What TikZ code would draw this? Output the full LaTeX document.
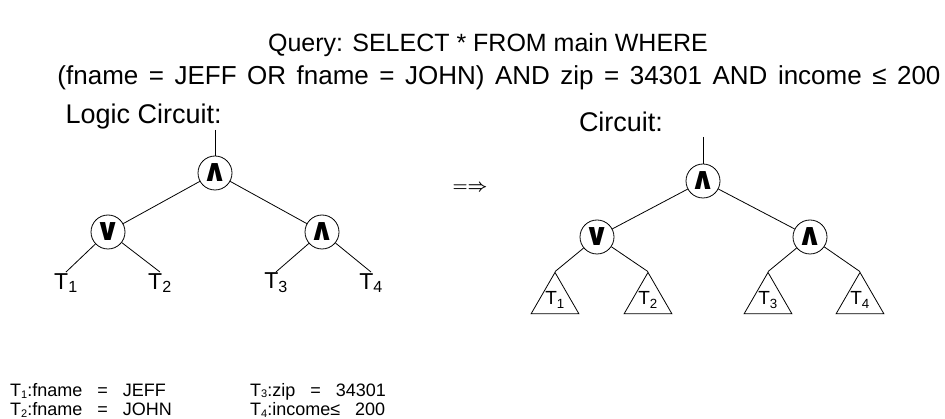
\documentclass[tikz,border=0pt]{standalone}
\usepackage{fontspec}
\setmainfont{Liberation Sans}
\newfontfamily\gatefont{DejaVu Sans}
\newcommand\widespaces[1]{\spaceskip=#1 plus 1pt\relax}
\newcommand\tsub[1]{\raisebox{-1.5pt}{\fontsize{11}{11}\selectfont #1}}
\usetikzlibrary{positioning,shapes.geometric}

\begin{document}
\begin{tikzpicture}[
    x=1pt, y=-1pt,
    gate/.style={circle, draw, line width=0.8pt, minimum size=34pt, inner sep=0pt,
                 font=\fontsize{31}{31}\gatefont\bfseries},
    leaf/.style={inner sep=1pt, font=\fontsize{23}{23}\selectfont},
    subtree/.style={regular polygon, regular polygon sides=3, draw, line width=0.8pt,
                    minimum size=52pt, inner sep=0pt, font=\fontsize{19}{19}\selectfont},
    wire/.style={line width=0.8pt},
    heading/.style={font=\fontsize{27}{30}\selectfont},
    query/.style={font=\fontsize{25}{28}\selectfont},
    legend/.style={anchor=base west, inner sep=0pt,
                   font=\fontsize{18}{18}\selectfont\widespaces{15pt}}
]
  \useasboundingbox (0,0) rectangle (945,419);

  % Query text
  \node[query] (q1) at (488,45) {Query: SELECT * FROM main WHERE};
  \node[query, font=\fontsize{26}{28}\selectfont\widespaces{10.5pt}]
    (q2) at (499,78) {(fname = JEFF OR fname = JOHN) AND zip = 34301 AND income ≤ 200};

  % Logic circuit (left)
  \node[heading, anchor=west] (lcap) at (62,117) {Logic Circuit:};
  \coordinate (ltop) at (215,130);
  \node[gate] (lroot) at (215,173) {∧};
  \node[gate] (lor) at (108,232) {∨};
  \node[gate] (land) at (322,232) {∧};
  \node[leaf] (lt1) at (66,283) {T\textsubscript{1}};
  \node[leaf] (lt2) at (160,283) {T\textsubscript{2}};
  \node[leaf] (lt3) at (276,283) {T\textsubscript{3}};
  \node[leaf] (lt4) at (371,283) {T\textsubscript{4}};

  \draw[wire] (ltop) -- (lroot);
  \draw[wire] (lroot) -- (lor);
  \draw[wire] (lroot) -- (land);
  \draw[wire] (lor) -- (lt1.north);
  \draw[wire] (lor) -- (lt2.north);
  \draw[wire] (land) -- (lt3.north);
  \draw[wire] (land) -- (lt4.north);

  \node[font=\fontsize{19}{19}\selectfont\boldmath] (to) at (470,188)
    {$\mathord{=}\mathord{\Rightarrow}$};

  % Circuit (right)
  \node[heading] (rcap) at (621,122) {Circuit:};
  \coordinate (rtop) at (703,137);
  \node[gate] (rroot) at (703,181) {∧};
  \node[gate] (ror) at (597,237) {∨};
  \node[gate] (rand) at (810,237) {∧};
  \node[subtree] (rt1) at (555,300) {T\textsubscript{1}};
  \node[subtree] (rt2) at (648,300) {T\textsubscript{2}};
  \node[subtree] (rt3) at (768,300) {T\textsubscript{3}};
  \node[subtree] (rt4) at (860,300) {T\textsubscript{4}};

  \draw[wire] (rtop) -- (rroot);
  \draw[wire] (rroot) -- (ror);
  \draw[wire] (rroot) -- (rand);
  \draw[wire] (ror) -- (rt1.corner 1);
  \draw[wire] (ror) -- (rt2.corner 1);
  \draw[wire] (rand) -- (rt3.corner 1);
  \draw[wire] (rand) -- (rt4.corner 1);

  % Legend
  \node[legend] (k1) at (10,397) {T\tsub{1}:fname = JEFF};
  \node[legend] (k2) at (10,416) {T\tsub{2}:fname = JOHN};
  \node[legend] (k3) at (250,396) {T\tsub{3}:zip = 34301};
  \node[legend] (k4) at (250,416) {T\tsub{4}:income≤ 200};
\end{tikzpicture}
\end{document}
